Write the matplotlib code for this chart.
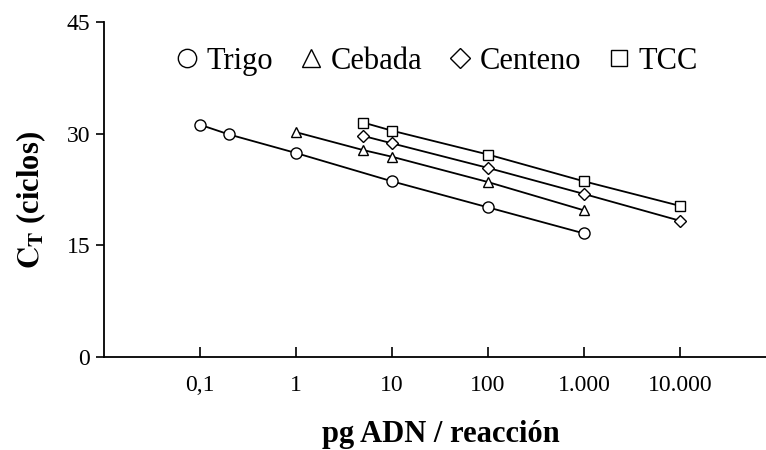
import numpy as np
import matplotlib
matplotlib.use("Agg")
from matplotlib import pyplot as plt

# data
trigo_x = [0.1, 0.2, 1, 10, 100, 1000]
trigo_y = [31.2, 29.9, 27.4, 23.6, 20.1, 16.6]
cebada_x = [1, 5, 10, 100, 1000]
cebada_y = [30.2, 27.8, 26.9, 23.5, 19.7]
centeno_x = [5, 10, 100, 1000, 10000]
centeno_y = [29.7, 28.7, 25.4, 21.9, 18.3]
tcc_x = [5, 10, 100, 1000, 10000]
tcc_y = [31.5, 30.4, 27.2, 23.6, 20.3]

tick_vals = [0.1, 1, 10, 100, 1000, 10000]
tick_labels = ["0,1", "1", "10", "100", "1.000", "10.000"]
ytick_vals = [0, 15, 30, 45]


def main():
    plt.rcParams['font.family'] = ['Liberation Serif', 'DejaVu Serif']
    plt.rcParams['mathtext.fontset'] = 'stix'

    fig = plt.figure(figsize=(7.66, 4.5), dpi=100)
    ax = fig.add_axes([104 / 766, 1 - 357 / 450, 1 - 104 / 766, 335 / 450])

    series = [
        (trigo_x, trigo_y, 'o', 8.0, "Trigo"),
        (cebada_x, cebada_y, '^', 7.5, "Cebada"),
        (centeno_x, centeno_y, 'D', 6.0, "Centeno"),
        (tcc_x, tcc_y, 's', 7.0, "TCC"),
    ]
    for x, y, m, ms, lab in series:
        ax.plot(x, y, color='black', linewidth=1.3, marker=m, markersize=ms,
                markerfacecolor='white', markeredgecolor='black',
                markeredgewidth=1.0, label=lab)

    ax.set_xscale('log')
    ax.set_xlim(0.01, 10 ** (4 + 86 / 96))
    ax.set_ylim(0, 45)

    ax.set_xticks(tick_vals)
    ax.set_xticklabels(tick_labels)
    ax.xaxis.set_minor_locator(matplotlib.ticker.NullLocator())
    ax.set_yticks(ytick_vals)

    ax.tick_params(axis='x', direction='in', length=7, width=1.2,
                   labelsize=17, pad=13)
    ax.tick_params(axis='y', direction='out', length=6, width=1.2,
                   labelsize=17, pad=4)

    for s in ['top', 'right']:
        ax.spines[s].set_visible(False)
    for s in ['left', 'bottom']:
        ax.spines[s].set_linewidth(1.3)

    ax.set_xlabel('pg ADN / reacción', fontsize=22, fontweight='bold',
                  labelpad=17)
    ax.xaxis.label.set_x(0.509)
    ax.set_ylabel(r'$\mathbf{C}_\mathbf{T}$ (ciclos)', fontsize=22,
                  fontweight='bold', labelpad=13)
    ax.yaxis.label.set_y(0.47)

    leg = ax.legend(loc='center left', bbox_to_anchor=(0.112, 0.883), ncol=4,
                    frameon=False, fontsize=22, markerscale=1.65,
                    handlelength=0.6, handletextpad=0.33, columnspacing=0.95,
                    borderpad=0.0, borderaxespad=0.0)
    for line in leg.get_lines():
        line.set_linestyle('none')

    fig.savefig('out.png', dpi=100)


if __name__ == '__main__':
    main()
